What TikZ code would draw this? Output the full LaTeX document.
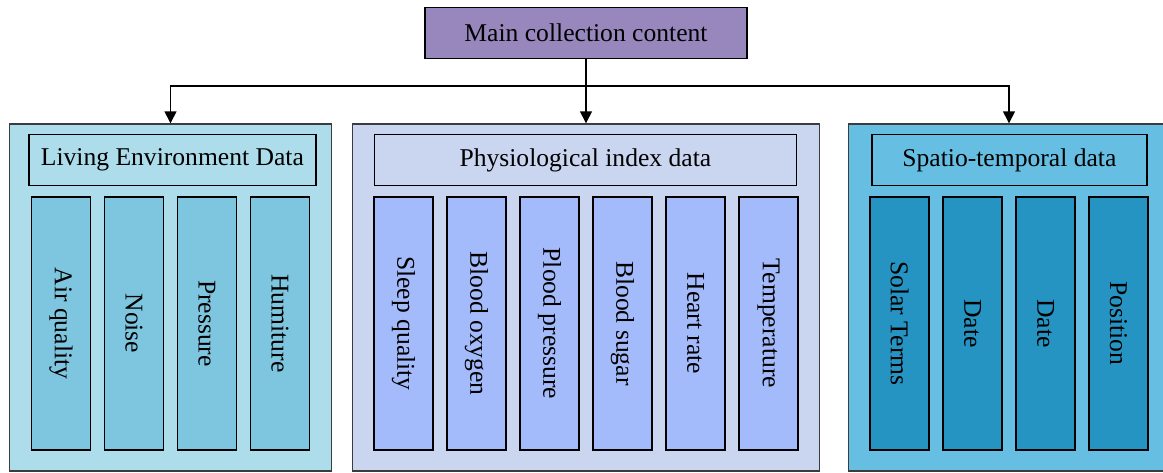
\documentclass[tikz,border=0pt]{standalone}
\usepackage{fontspec}
\setmainfont{Liberation Serif}
\usepackage{graphicx}
\usepackage{tikz}
\usetikzlibrary{positioning,arrows.meta}

\definecolor{mainPurple}{HTML}{9887BD}
\definecolor{envPanel}{HTML}{ADDCEB}
\definecolor{envBar}{HTML}{7EC6E0}
\definecolor{phyPanel}{HTML}{CAD5F0}
\definecolor{phyBar}{HTML}{A4BBFB}
\definecolor{stPanel}{HTML}{66BFE2}
\definecolor{stBar}{HTML}{2594C2}
\definecolor{panelEdge}{HTML}{3C3C3C}

\newcommand{\vtext}[1]{\rotatebox[origin=c]{-90}{#1}}

\begin{document}
\begin{tikzpicture}[x=0.5pt,y=-0.5pt,node distance=36.5pt,on grid,font=\fontsize{12.8}{15}\selectfont]
            \tikzstyle{panel}=[draw=panelEdge, line width=0.7pt, minimum height=173.5pt, inner sep=0pt]
            \tikzstyle{header}=[draw=black, line width=0.75pt, minimum height=25.3pt, inner sep=0pt]
            \tikzstyle{bar}=[draw=black, line width=0.75pt, minimum width=29.4pt, minimum height=126.6pt, inner sep=0pt]
            \tikzstyle{link}=[-{Triangle[length=6pt,width=6pt]}, line width=0.7pt]

            \useasboundingbox (0,0) rectangle (1163,472);

            \node[draw=black, line width=0.75pt, fill=mainPurple, minimum width=161pt, minimum height=25.5pt] (main) at (586,33) {Main collection content};

            % three groups
            \node[panel, fill=envPanel, minimum width=160.9pt]  (envpanel) at (170.5,297.5) {};
            \node[panel, fill=phyPanel, minimum width=233.25pt] (phypanel) at (586,297.5)   {};
            \node[panel, fill=stPanel,  minimum width=160.3pt]  (stpanel)  at (1009,297.5)  {};

            \node[header, fill=envPanel, minimum width=143.6pt] (envhead) at (172.4,160)  {Living Environment Data};
            \node[header, fill=phyPanel, minimum width=211pt]   (phyhead) at (585.4,160)  {Physiological index data};
            \node[header, fill=stPanel,  minimum width=137.6pt] (sthead)  at (1009.4,160) {Spatio-temporal data};

            % living environment
            \node[bar, fill=envBar] (air)      at (61,323.4)     {\vtext{Air quality}};
            \node[bar, fill=envBar] (noise)    [right = of air]   {\vtext{Noise}};
            \node[bar, fill=envBar] (pressure) [right = of noise] {\vtext{Pressure}};
            \node[bar, fill=envBar] (humiture) [right = of pressure] {\vtext{Humiture}};

            % physiological index
            \node[bar, fill=phyBar] (sleep)    at (403.5,323.4)   {\vtext{Sleep quality}};
            \node[bar, fill=phyBar] (oxygen)   [right = of sleep]  {\vtext{Blood oxygen}};
            \node[bar, fill=phyBar] (bpress)   [right = of oxygen] {\vtext{Plood pressure}};
            \node[bar, fill=phyBar] (sugar)    [right = of bpress] {\vtext{Blood sugar}};
            \node[bar, fill=phyBar] (heart)    [right = of sugar]  {\vtext{Heart rate}};
            \node[bar, fill=phyBar] (temp)     [right = of heart]  {\vtext{Temperature}};

            % spatio-temporal
            \node[bar, fill=stBar]  (solar)    at (899.5,323.4)   {\vtext{Solar Terms}};
            \node[bar, fill=stBar]  (dateA)    [right = of solar] {\vtext{Date}};
            \node[bar, fill=stBar]  (dateB)    [right = of dateA] {\vtext{Date}};
            \node[bar, fill=stBar]  (position) [right = of dateB] {\vtext{Position}};

            \coordinate (split) at (586,86);
            \draw[link] (main) -- (phypanel);
            \draw[link] (split) -| (envpanel.north);
            \draw[link] (split) -| (stpanel.north);
        \end{tikzpicture}
\end{document}
